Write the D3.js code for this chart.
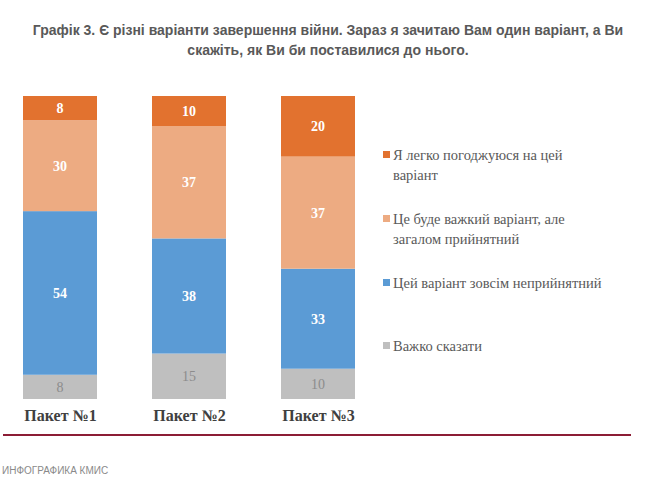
<!DOCTYPE html>
<html><head><meta charset="utf-8">
<script src="https://cdn.jsdelivr.net/npm/d3@7"></script>
<style>body{margin:0;background:#fff}svg{display:block}</style>
</head><body>
<script>
const categories = ["Пакет №1", "Пакет №2", "Пакет №3"];
const seriesNames = ["Я легко погоджуюся на цей варіант", "Це буде важкий варіант, але загалом прийнятний", "Цей варіант зовсім неприйнятний", "Важко сказати"];
const agreeEasy = [8, 10, 20];
const hardButOk = [30, 37, 37];
const unacceptable = [54, 38, 33];
const hardToSay = [8, 15, 10];
const colors = ["#E2722F", "#EDAB82", "#5B9BD5", "#BFBFBF"];
const legendLines = [["Я легко погоджуюся на цей", "варіант"], ["Це буде важкий варіант, але", "загалом прийнятний"], ["Цей варіант зовсім неприйнятний"], ["Важко сказати"]];

const W = 655, H = 483;
const SERIF = "'Liberation Serif', 'Times New Roman', serif";
const svg = d3.select("body").append("svg").attr("width", W).attr("height", H);

// title
const title = svg.append("text").attr("text-anchor","middle").attr("font-family","'Liberation Sans', Arial, sans-serif")
  .attr("font-weight","bold").attr("font-size",14).attr("fill","#595959");
title.append("tspan").attr("x",328).attr("y",35).text("Графік 3. Є різні варіанти завершення війни. Зараз я зачитаю Вам один варіант, а Ви");
title.append("tspan").attr("x",328).attr("y",55).text("скажіть, як Ви би поставилися до нього.");

const stackSeries = [hardToSay, unacceptable, hardButOk, agreeEasy];
const stackColors = [colors[3], colors[2], colors[1], colors[0]];

const x = d3.scalePoint().domain(categories).range([60, 318]);
const barW = 74;
const y = d3.scaleLinear().domain([0,100]).range([399, 96]);

categories.forEach((c,i)=>{
  let cum = 0;
  stackSeries.forEach((s,k)=>{
    const v = s[i];
    const y0 = y(cum), y1 = y(cum+v);
    svg.append("rect").attr("x", x(c) - barW/2).attr("width", barW)
      .attr("y", y1).attr("height", y0-y1).attr("fill", stackColors[k]);
    svg.append("text").attr("x", x(c)).attr("y",(y0+y1)/2+5)
      .attr("text-anchor","middle").attr("font-family",SERIF)
      .attr("font-size",14).attr("font-weight", k===0?"normal":"bold")
      .attr("fill", k===0?"#8C8C8C":"#FFFFFF").text(v);
    cum += v;
  });
});

// category axis labels
const xAxis = d3.axisBottom(x).tickSize(0).tickPadding(0);
const ax = svg.append("g").attr("transform","translate(0,421)").call(xAxis);
ax.select(".domain").remove();
ax.selectAll("text").attr("font-family",SERIF).attr("font-size",16)
  .attr("font-weight","bold").attr("fill","#404040").attr("dy","0");

// legend
const legY = [[160,180],[224,244],[288],[351]];
legendLines.forEach((lines,i)=>{
  svg.append("rect").attr("x",383).attr("y",legY[i][0]-9).attr("width",7).attr("height",7).attr("fill",colors[i]);
  lines.forEach((ln,j)=>{
    svg.append("text").attr("x",393).attr("y",legY[i][j]).attr("font-family",SERIF)
      .attr("font-size",14.5).attr("fill","#595959").text(ln);
  });
});

// bottom rule
svg.append("line").attr("x1",3).attr("x2",631).attr("y1",435).attr("y2",435).attr("stroke","#8C1D35").attr("stroke-width",2);
svg.append("text").attr("x",2).attr("y",474).attr("font-family","'Liberation Sans Narrow', 'Liberation Sans', Arial, sans-serif")
  .attr("font-size",10).attr("fill","#8a8a8a").text("ИНФОГРАФИКА КМИС");
</script>
</body></html>
